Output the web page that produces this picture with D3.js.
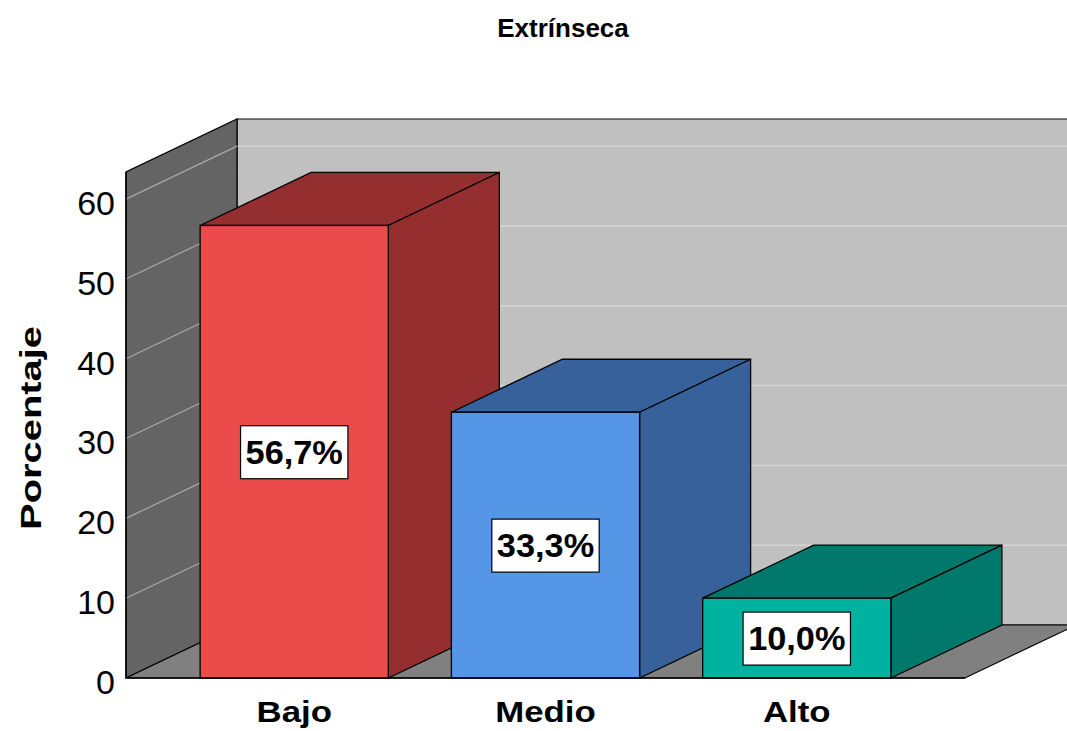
<!DOCTYPE html>
<html>
<head>
<meta charset="utf-8">
<script src="https://cdn.jsdelivr.net/npm/d3@7"></script>
<style>
  body { margin: 0; background: #fff; }
  text { font-family: "Liberation Sans", Arial, sans-serif; }
</style>
</head>
<body>
<svg id="chart"></svg>
<script>
// data
const categories = ["Bajo", "Medio", "Alto"];
const values = [56.7, 33.3, 10.0];
const valueLabels = ["56,7%", "33,3%", "10,0%"];
const yTicks = [0, 10, 20, 30, 40, 50, 60];
const frontColors = ["#EC4B4B", "#5596E6", "#00B2A0"];
const sideColors = ["#952E2F", "#36619A", "#00786B"];

const width = 1067, height = 731;
const svg = d3.select("#chart").attr("width", width).attr("height", height);

// front plane and 3D depth offset
const x0 = 126, x1 = 965, yBottom = 678, yTop = 172;
const dx = 111, dy = -53;

const y = d3.scaleLinear().domain([0, 63.4]).range([yBottom, yTop]);
const x = d3.scaleBand().domain(categories).range([x0, x1])
    .paddingInner(0.251).paddingOuter(0.295);

const poly = pts => pts.map(p => p.join(",")).join(" ");

// back wall
svg.append("polygon")
    .attr("points", poly([[x0 + dx, yTop + dy], [width + 20, yTop + dy], [width + 20, yBottom + dy], [x0 + dx, yBottom + dy]]))
    .attr("fill", "#C0C0C0").attr("stroke", "#000").attr("stroke-width", 1.2);

// back wall grid
svg.selectAll(".bgrid").data(yTicks.filter(d => d > 0)).enter().append("line")
    .attr("x1", x0 + dx).attr("x2", width)
    .attr("y1", d => y(d) + dy).attr("y2", d => y(d) + dy)
    .attr("stroke", "#D4D4D4").attr("stroke-width", 1.5);

// left wall
svg.append("polygon")
    .attr("points", poly([[x0, yBottom], [x0, yTop], [x0 + dx, yTop + dy], [x0 + dx, yBottom + dy]]))
    .attr("fill", "#646464").attr("stroke", "#000").attr("stroke-width", 1.2);

svg.selectAll(".lgrid").data(yTicks.filter(d => d > 0)).enter().append("line")
    .attr("x1", x0).attr("x2", x0 + dx)
    .attr("y1", d => y(d)).attr("y2", d => y(d) + dy)
    .attr("stroke", "#A8A8A8").attr("stroke-width", 1.2);

// floor
svg.append("polygon")
    .attr("points", poly([[x0, yBottom], [x0 + dx, yBottom + dy], [x1 + dx, yBottom + dy], [x1, yBottom]]))
    .attr("fill", "#808080").attr("stroke", "#000").attr("stroke-width", 1.2);

// bars
const bars = svg.selectAll(".bar").data(values).enter().append("g");

bars.append("polygon") // top
    .attr("points", (d, i) => {
        const l = x(categories[i]), r = l + x.bandwidth(), t = y(d);
        return poly([[l, t], [l + dx, t + dy], [r + dx, t + dy], [r, t]]);
    })
    .attr("fill", (d, i) => sideColors[i]).attr("stroke", "#000").attr("stroke-width", 1.3);

bars.append("polygon") // side
    .attr("points", (d, i) => {
        const r = x(categories[i]) + x.bandwidth(), t = y(d);
        return poly([[r, t], [r + dx, t + dy], [r + dx, yBottom + dy], [r, yBottom]]);
    })
    .attr("fill", (d, i) => sideColors[i]).attr("stroke", "#000").attr("stroke-width", 1.3);

bars.append("rect") // front
    .attr("x", (d, i) => x(categories[i]))
    .attr("y", d => y(d))
    .attr("width", x.bandwidth())
    .attr("height", d => yBottom - y(d))
    .attr("fill", (d, i) => frontColors[i]).attr("stroke", "#000").attr("stroke-width", 1.3);

// value labels
bars.each(function(d, i) {
    const g = d3.select(this);
    const cx = x(categories[i]) + x.bandwidth() / 2;
    const cy = (y(d) + yBottom) / 2;
    const t = g.append("text")
        .attr("transform", `translate(${cx},${cy + 12}) scale(1.04,1)`)
        .attr("text-anchor", "middle")
        .attr("font-size", 33).attr("font-weight", "bold")
        .text(valueLabels[i]);
    const w = t.node().getBBox().width * 1.04;
    g.insert("rect", "text")
        .attr("x", cx - w / 2 - 5).attr("y", cy - 26)
        .attr("width", w + 10).attr("height", 53)
        .attr("fill", "#fff").attr("stroke", "#000").attr("stroke-width", 1.2);
});

// axes lines
svg.append("line").attr("x1", x0).attr("x2", x0).attr("y1", yTop).attr("y2", yBottom)
    .attr("stroke", "#000").attr("stroke-width", 1.5);
svg.append("line").attr("x1", x0).attr("x2", x1).attr("y1", yBottom).attr("y2", yBottom)
    .attr("stroke", "#000").attr("stroke-width", 1.5);

// y axis ticks
const yAxis = svg.append("g").attr("transform", `translate(${x0},0)`)
    .call(d3.axisLeft(y).tickValues(yTicks).tickSize(0).tickPadding(11));
yAxis.select(".domain").remove();
yAxis.selectAll("text").attr("font-size", 34).attr("fill", "#000").attr("dy", "0.45em")
    .style("font-family", '"Liberation Sans", Arial, sans-serif');

// x axis labels (slightly widened like the original)
svg.selectAll(".xlab").data(categories).enter().append("text")
    .attr("transform", d => `translate(${x(d) + x.bandwidth() / 2},${yBottom + 44}) scale(1.2,1)`)
    .attr("text-anchor", "middle")
    .attr("font-size", 29).attr("font-weight", "bold")
    .text(d => d);

// y axis title
svg.append("text")
    .attr("transform", "translate(41,428) rotate(-90) scale(1.33,1)")
    .attr("text-anchor", "middle")
    .attr("font-size", 30).attr("font-weight", "bold")
    .text("Porcentaje");

// title
svg.append("text")
    .attr("x", 563).attr("y", 37)
    .attr("text-anchor", "middle")
    .attr("font-size", 26).attr("font-weight", "bold")
    .text("Extrínseca");
</script>
</body>
</html>
